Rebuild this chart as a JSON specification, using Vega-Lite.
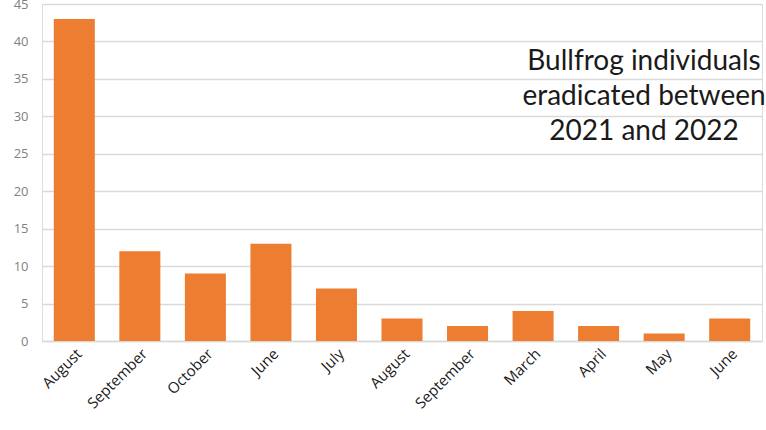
{
  "$schema": "https://vega.github.io/schema/vega-lite/v6.json",
  "autosize": "none",
  "width": 720,
  "height": 337,
  "padding": {"left": 42, "top": 4, "right": 4, "bottom": 89},
  "background": "white",
  "title": {
    "text": ["Bullfrog individuals", "eradicated between", "2021 and 2022"],
    "anchor": "end",
    "align": "center",
    "baseline": "top",
    "orient": "top",
    "frame": "group",
    "dx": -118,
    "dy": 148,
    "offset": 0,
    "fontSize": 28,
    "lineHeight": 35,
    "font": "Lato",
    "fontWeight": "normal",
    "color": "#1a1a1a"
  },
  "data": {
    "values": [
      {"slot": "August|1", "count": 43},
      {"slot": "September|2", "count": 12},
      {"slot": "October|3", "count": 9},
      {"slot": "June|4", "count": 13},
      {"slot": "July|5", "count": 7},
      {"slot": "August|6", "count": 3},
      {"slot": "September|7", "count": 2},
      {"slot": "March|8", "count": 4},
      {"slot": "April|9", "count": 2},
      {"slot": "May|10", "count": 1},
      {"slot": "June|11", "count": 3}
    ]
  },
  "mark": {"type": "bar", "color": "#ED7D31"},
  "encoding": {
    "x": {
      "field": "slot",
      "type": "nominal",
      "sort": null,
      "scale": {"paddingInner": 0.374, "paddingOuter": 0.18},
      "axis": {
        "title": null,
        "labelExpr": "split(datum.label, '|')[0]",
        "labelAngle": -45,
        "labelAlign": "right",
        "labelBaseline": "top",
        "labelPadding": 5,
        "labelDx": 6,
        "labelFontSize": 15,
        "labelFont": "Open Sans",
        "labelColor": "#1a1a1a",
        "ticks": false,
        "domainColor": "#d9d9d9",
        "domainWidth": 1.5
      }
    },
    "y": {
      "field": "count",
      "type": "quantitative",
      "scale": {"domain": [0, 45], "nice": false},
      "axis": {
        "title": null,
        "values": [0, 5, 10, 15, 20, 25, 30, 35, 40, 45],
        "ticks": false,
        "domain": false,
        "labelPadding": 14,
        "labelFontSize": 13,
        "labelFont": "Open Sans",
        "labelColor": "#7f7f7f",
        "gridColor": "#d9d9d9",
        "gridWidth": 1.5
      }
    }
  }
}
